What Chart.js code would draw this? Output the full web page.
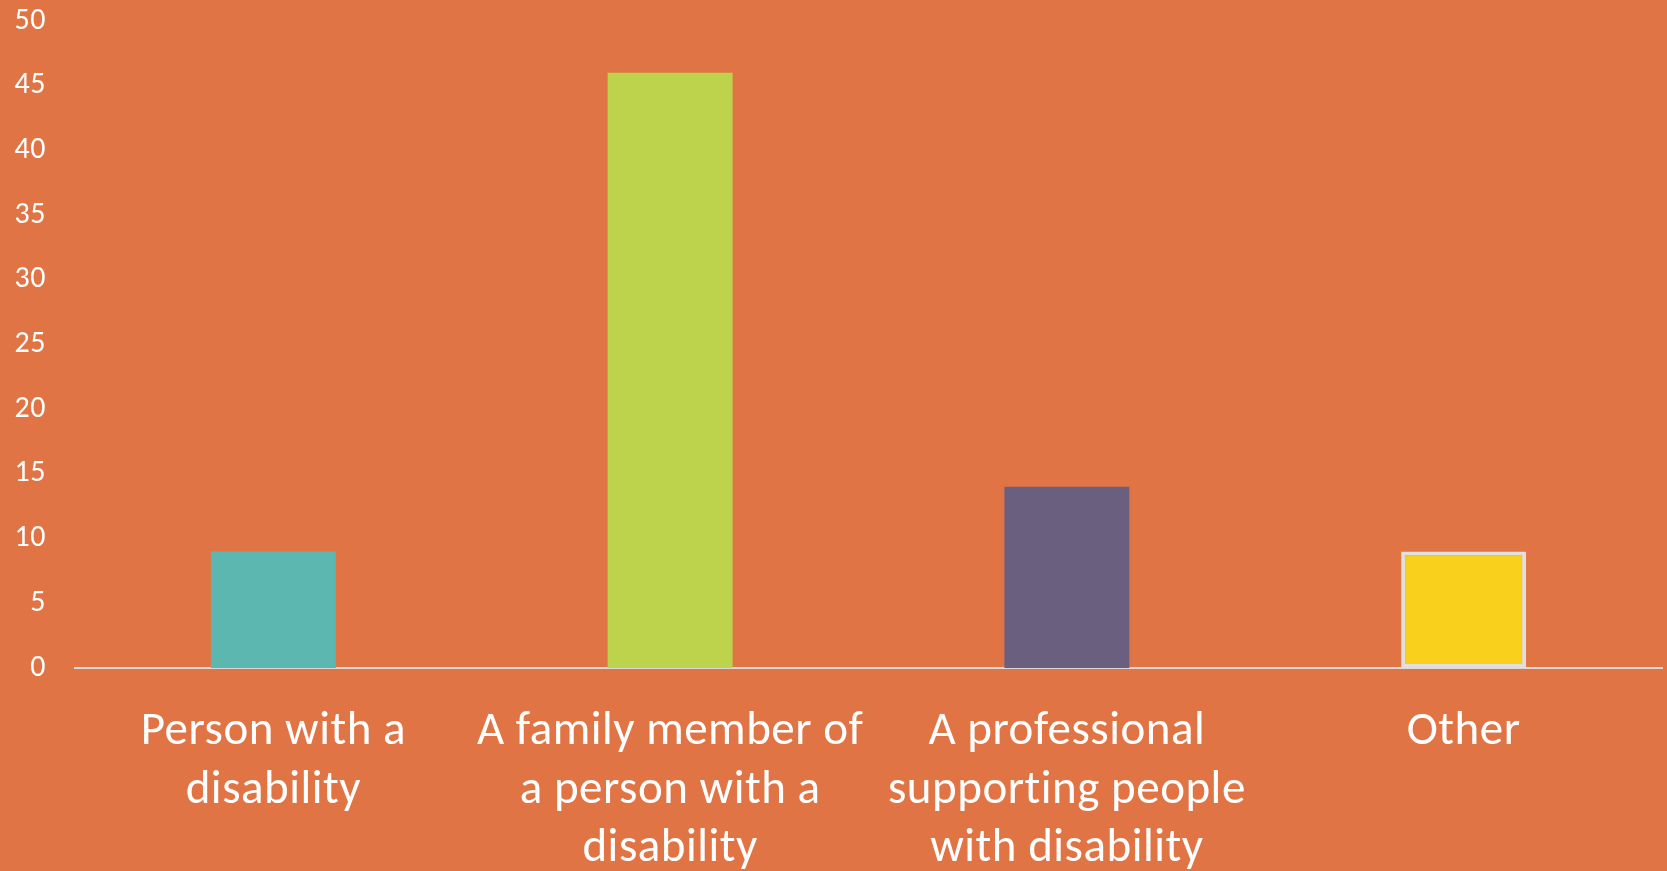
<!DOCTYPE html>
<html>
<head>
<meta charset="utf-8">
<script src="https://cdn.jsdelivr.net/npm/chart.js@4"></script>
<style>
  html, body { margin: 0; padding: 0; background: #E17444; overflow: hidden; }
  #wrap { position: absolute; left: 0; top: -26px; width: 1667px; height: 897px; }
</style>
</head>
<body>
<div id="wrap"><canvas id="respondentsChart"></canvas></div>
<script>
// respondent groups and counts
var categories = [
  ["Person with a", "disability"],
  ["A family member of", "a person with a", "disability"],
  ["A professional", "supporting people", "with disability"],
  ["Other"]
];
var counts = [9, 46, 14, 9];
var barColors = ["#5DB7B1", "#BDD34B", "#6A5F7E", "#F9D01B"];
var barBorders = ["#5DB7B1", "#BDD34B", "#6A5F7E", "#E2E0DC"];
var borderWidths = [0, 0, 0, 4];
var yTicks = [0, 5, 10, 15, 20, 25, 30, 35, 40, 45, 50];

var fontFamily = "Carlito, Calibri, Lato, sans-serif";

// a little tracking keeps Lato from joining "ti"
var spacingPlugin = {
  id: "spacing",
  beforeDraw: function(chart) {
    chart.ctx.letterSpacing = "0.5px";
  }
};

document.addEventListener("DOMContentLoaded", function() {
  var ctx = document.getElementById("respondentsChart").getContext("2d");

  new Chart(ctx, {
    type: 'bar',
    data: {
      labels: categories,
      datasets: [{
        data: counts,
        backgroundColor: barColors,
        borderColor: barBorders,
        borderWidth: borderWidths,
        borderSkipped: false,
        barPercentage: 0.315,
        categoryPercentage: 1
      }]
    },
    plugins: [spacingPlugin],
    options: {
      responsive: true,
      maintainAspectRatio: false,
      animation: false,
      layout: { padding: { top: 3, right: 5, left: 0, bottom: 0 } },
      plugins: {
        legend: { display: false },
        tooltip: { enabled: false }
      },
      scales: {
        x: {
          grid: { display: false, drawTicks: false },
          border: { display: true, color: "#D9D9D9", width: 2 },
          ticks: {
            color: "#FFFFFF",
            maxRotation: 0,
            autoSkip: false,
            padding: 35,
            font: { family: fontFamily, size: 47, lineHeight: 1.245 }
          },
          afterFit: function(scale) {
            // labels run off the bottom edge, keep the plot height fixed
            scale.height = 203;
          }
        },
        y: {
          min: 0,
          max: 50,
          afterBuildTicks: function(scale) {
            scale.ticks = yTicks.map(function(v) { return { value: v }; });
          },
          grid: { display: false, drawTicks: false },
          border: { display: false },
          ticks: {
            color: "#FFFFFF",
            padding: 29,
            font: { family: fontFamily, size: 30 }
          },
          afterFit: function(scale) {
            scale.width = 75;
          }
        }
      }
    }
  });
});
</script>
</body>
</html>
